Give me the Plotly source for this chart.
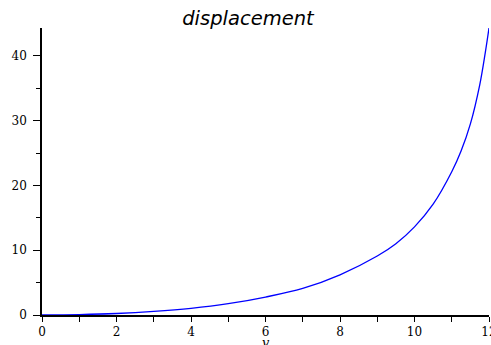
import plotly.graph_objects as go

# Data
v_values = [0, 1, 2, 3, 4, 5, 6, 7, 8, 9, 9.5, 10, 10.5, 11, 11.25, 11.5, 11.75, 11.9, 12]
displacement = [0, 0.06, 0.23, 0.55, 1.02, 1.74, 2.77, 4.1, 6.2, 9.1, 11.0, 13.6, 17.1, 22.1, 25.3, 29.5, 35.5, 40.5, 44.3]

x_ticks = [0, 2, 4, 6, 8, 10, 12]
y_ticks = [0, 10, 20, 30, 40]

title_text = "displacement"
x_label = "v"

fig = go.Figure()
fig.add_trace(go.Scatter(
    x=v_values, y=displacement, mode="lines",
    line=dict(color="#0000ff", width=1.3, shape="spline", smoothing=1.0),
    hoverinfo="skip", showlegend=False,
))

tick_font = dict(family="DejaVu Serif", size=12, color="black")

fig.update_layout(
    width=491, height=345,
    margin=dict(l=42, r=2, t=28, b=29.5, autoexpand=False),
    paper_bgcolor="white", plot_bgcolor="white",
    title=dict(text=title_text, x=0.505, xref="container", xanchor="center",
               y=1 - 11 / 345, yref="container", yanchor="top",
               font=dict(family="DejaVu Sans", size=19.5, style="italic", color="black")),
    xaxis=dict(
        range=[0, 12], tickvals=x_ticks, ticktext=[str(t) for t in x_ticks],
        showgrid=False, zeroline=False, showline=True, linecolor="black", linewidth=1.5,
        ticks="outside", ticklen=5, tickwidth=1, tickcolor="black",
        minor=dict(dtick=1, ticks="outside", ticklen=5, tickwidth=1, tickcolor="black", showgrid=False),
        tickfont=tick_font, ticklabeloverflow="allow", automargin=False,
    ),
    yaxis=dict(
        range=[0, 44.3], tickvals=y_ticks, ticktext=[str(t) for t in y_ticks],
        showgrid=False, zeroline=False, showline=True, linecolor="black", linewidth=1.5,
        ticks="outside", ticklen=7, tickwidth=1, tickcolor="black",
        minor=dict(dtick=5, ticks="outside", ticklen=4, tickwidth=1, tickcolor="black", showgrid=False),
        tickfont=tick_font, ticklabelstandoff=4, automargin=False,
    ),
    annotations=[dict(
        text=x_label, xref="paper", yref="paper", x=0.5, y=-0.064,
        xanchor="center", yanchor="top", showarrow=False,
        font=dict(family="DejaVu Serif", size=13, style="italic", color="black"),
    )],
)

fig.write_html("out.html")
